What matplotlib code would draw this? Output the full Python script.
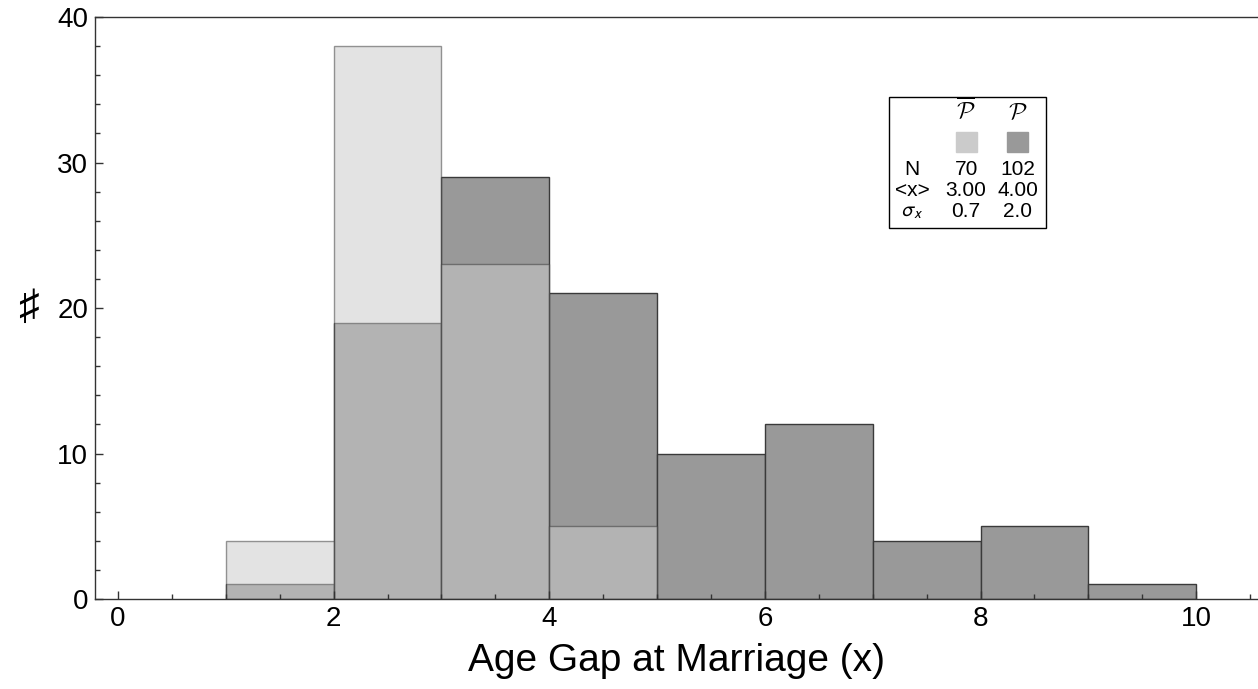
import numpy as np
import matplotlib.pyplot as plt
from matplotlib.patches import Rectangle

plt.rcParams['font.family'] = ['Liberation Sans', 'DejaVu Sans']
plt.rcParams['mathtext.fontset'] = 'cm'

# ----- histogram data (bins of width 1) -----
bin_left = np.arange(1, 10)
counts_pbar = [4, 38, 23, 5, 0, 0, 0, 0, 0]      # light series (N = 70)
counts_p = [1, 19, 29, 21, 10, 12, 4, 5, 1]      # dark series (N = 102)

# legend table values
row_labels = ["N", "<x>", r"$\sigma_x$"]
pbar_stats = ["70", "3.00", "0.7"]
p_stats = ["102", "4.00", "2.0"]

dark = "#999999"
light = "#cbcbcb"
edge = "#3a3a3a"

fig = plt.figure(figsize=(12.58, 6.89), dpi=100)
ax = fig.add_axes([0.0755, 0.1306, 0.9245, 0.8447])

# dark series drawn first, light semi-transparent on top
ax.bar(bin_left, counts_p, width=1, align='edge', color=dark,
       edgecolor=edge, linewidth=1.0)
mask = np.array(counts_pbar) > 0
ax.bar(bin_left[mask], np.array(counts_pbar)[mask], width=1, align='edge',
       color=light, edgecolor=edge, linewidth=1.0, alpha=0.52)

ax.set_xlim(-0.214, 10.574)
ax.set_ylim(0, 40)
ax.set_xticks(np.arange(0, 11, 2))
ax.set_xticks(np.arange(0, 10.75, 0.5), minor=True)
ax.set_yticks(np.arange(0, 41, 10))
ax.set_yticks(np.arange(0, 41, 2), minor=True)
ax.tick_params(which='both', direction='in', colors='#333333',
               labelcolor='black', labelsize=20, width=1)
ax.tick_params(which='major', length=6, pad=5)
ax.tick_params(which='minor', length=3.5)
ax.tick_params(axis='x', which='both', top=False)
ax.tick_params(axis='y', which='both', right=False)
for s in ['left', 'bottom', 'top']:
    ax.spines[s].set_color('#333333')
    ax.spines[s].set_linewidth(1.0)
ax.spines['right'].set_visible(False)

ax.set_xlabel("Age Gap at Marriage (x)", fontsize=28)
ax.xaxis.set_label_coords(0.5, -0.075)
ax.set_ylabel("\u266f", fontsize=30, rotation=0, va='center', ha='center')
ax.yaxis.set_label_coords(-0.057, 0.5)

# ----- legend table -----
tr = ax.transAxes
ax.add_patch(Rectangle((0.6827, 0.6375), 0.135, 0.225, transform=tr,
                       fill=False, edgecolor='black', linewidth=1.0, zorder=5))
cols = [0.7025, 0.749, 0.7936]
rows = [0.7388, 0.7027, 0.665]
fs = 15
ax.text(cols[1], 0.838, r"$\overline{\mathcal{P}}$", transform=tr,
        ha='center', va='center', fontsize=17, zorder=6)
ax.text(cols[2], 0.835, r"$\mathcal{P}$", transform=tr,
        ha='center', va='center', fontsize=17, zorder=6)
sw, sh = 0.018, 0.0344
ax.add_patch(Rectangle((cols[1] - sw / 2, 0.785 - sh / 2), sw, sh,
                       transform=tr, color=light, zorder=6))
ax.add_patch(Rectangle((cols[2] - sw / 2, 0.785 - sh / 2), sw, sh,
                       transform=tr, color=dark, zorder=6))
for lab, a, b, y in zip(row_labels, pbar_stats, p_stats, rows):
    ax.text(cols[0], y, lab, transform=tr, ha='center', va='center',
            fontsize=fs, zorder=6, math_fontfamily='stixsans')
    ax.text(cols[1], y, a, transform=tr, ha='center', va='center',
            fontsize=fs, zorder=6)
    ax.text(cols[2], y, b, transform=tr, ha='center', va='center',
            fontsize=fs, zorder=6)

fig.savefig("out.png", dpi=100)
